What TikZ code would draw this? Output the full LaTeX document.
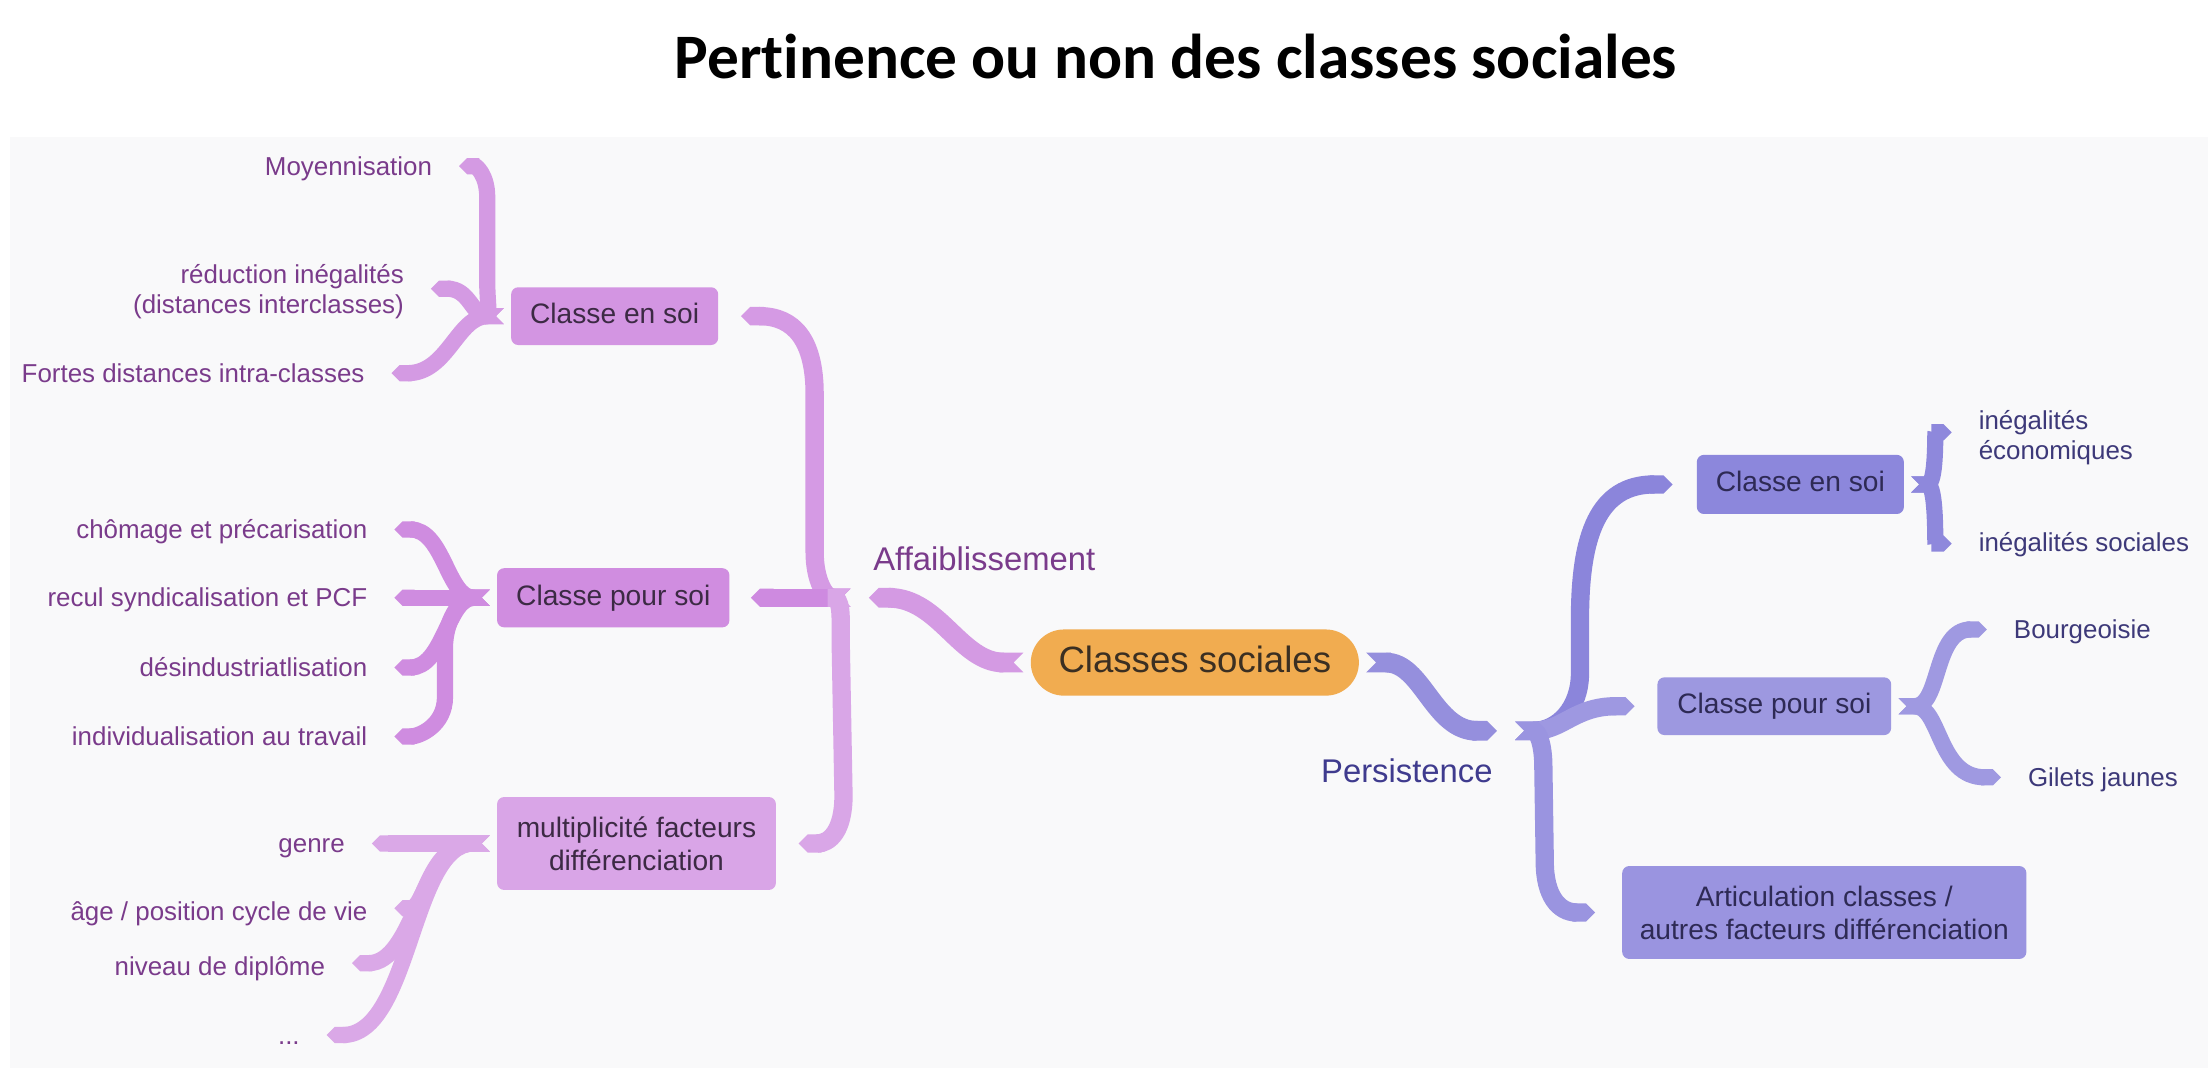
\documentclass[tikz,border=0pt]{standalone}
\usepackage{fontspec}
\setmainfont{Liberation Sans}
\newfontfamily\titlefont{Carlito}[Ligatures=NoCommon]
\usetikzlibrary{arrows.meta,calc}
\definecolor{panel}{HTML}{F9F9FA}
\definecolor{lboxA}{HTML}{D395E2}
\definecolor{lboxB}{HTML}{D08DE0}
\definecolor{lboxC}{HTML}{D9A5E7}
\definecolor{rboxA}{HTML}{8C87DC}
\definecolor{rboxB}{HTML}{9D98E0}
\definecolor{rboxC}{HTML}{9A94E0}
\definecolor{centre}{HTML}{F1AC50}
\definecolor{ltext}{HTML}{7A3B8B}
\definecolor{rtext}{HTML}{3D3979}
\definecolor{lboxtext}{HTML}{3C2A44}
\definecolor{rboxtext}{HTML}{2E2A55}
\definecolor{ctext}{HTML}{3B2F22}
\definecolor{pertext}{HTML}{3F3B8E}
\definecolor{cLone}{HTML}{D49AE3}
\definecolor{cLtwoA}{HTML}{D59AE4}
\definecolor{cLtwoB}{HTML}{CE8AE0}
\definecolor{cLtwoC}{HTML}{D9A6E7}
\definecolor{cLthrA}{HTML}{D49AE3}
\definecolor{cLthrB}{HTML}{CF8CE0}
\definecolor{cLthrC}{HTML}{DAA8E7}
\definecolor{cRone}{HTML}{958FDD}
\definecolor{cRtwoA}{HTML}{8B85DB}
\definecolor{cRtwoB}{HTML}{9E98E1}
\definecolor{cRtwoC}{HTML}{9A94E0}
\definecolor{cRthrA}{HTML}{8E88DC}
\definecolor{cRthrB}{HTML}{9F99E1}
\begin{document}
\begin{tikzpicture}[x=1pt,y=-1pt,
  ribbon/.style={line width=#1, line cap=butt, arrows={Triangle Cap[reversed]-Triangle Cap}},
  lvlA/.style={ribbon=14pt},
  lvlB/.style={ribbon=13pt},
  leafr/.style={ribbon=11.5pt},
  boxnode/.style={rounded corners=5pt, inner sep=0pt, align=center, font=\fontsize{20}{23.5}\selectfont},
  lbox/.style={boxnode, fill=#1, text=lboxtext},
  rbox/.style={boxnode, fill=#1, text=rboxtext},
  onebox/.style={text height=14.5pt, text depth=4.2pt},
  lleaf/.style={inner sep=0pt, anchor=east, align=right, text=ltext, font=\fontsize{18.4}{21.5}\selectfont},
  rleaf/.style={inner sep=0pt, anchor=west, align=left, text=rtext, font=\fontsize{18.4}{21.5}\selectfont},
  oneleaf/.style={text height=15pt, text depth=2pt},
  bigtext/.style={inner sep=0pt, anchor=west, font=\fontsize{23.3}{28}\selectfont, text height=19pt, text depth=3pt}
]
\useasboundingbox (0,0) rectangle (1568,758.4);
\fill[white] (0,0) rectangle (1568,758.4);
\fill[panel] (7,97) rectangle (1568,758.4);

% title
\node[anchor=base, inner sep=0pt, font=\titlefont\bfseries\fontsize{45}{54}\selectfont] (title) at (835,56) {Pertinence ou non des classes sociales};

% centre
\node[fill=centre, rounded corners=23.5pt, minimum width=233pt, minimum height=47pt, inner sep=0pt,
      text=ctext, font=\fontsize{26}{30}\selectfont, text height=19pt, text depth=5.5pt] (cs) at (848.5,470.5) {Classes sociales};

\node[bigtext, text=ltext] (aff) at (620,397) {Affaiblissement};
\node[bigtext, text=pertext] (pers) at (938,548) {Persistence};

\coordinate (hubL) at (610,424.5);
\coordinate (hubR) at (1070,519);

% boxes
\node[lbox=lboxA, minimum width=147pt, minimum height=41pt, onebox] (lces) at (436.5,224.5) {Classe en soi};
\node[lbox=lboxB, minimum width=165pt, minimum height=42pt, onebox] (lcps) at (435.5,424.5) {Classe pour soi};
\node[lbox=lboxC, minimum width=198pt, minimum height=66pt] (lmf) at (452,599) {multiplicité facteurs\\différenciation};
\node[rbox=rboxA, minimum width=147pt, minimum height=42pt, onebox] (rces) at (1278.5,344) {Classe en soi};
\node[rbox=rboxB, minimum width=166pt, minimum height=41pt, onebox] (rcps) at (1260,501.5) {Classe pour soi};
\node[rbox=rboxC, minimum width=287pt, minimum height=66pt] (rart) at (1295.5,648) {Articulation classes /\\autres facteurs différenciation};

% left leaves
\node[lleaf, oneleaf] (moy) at (307,118) {Moyennisation};
\node[lleaf] (red) at (287,207) {réduction inégalités\\(distances interclasses)};
\node[lleaf, oneleaf] (fortes) at (259,265) {Fortes distances intra-classes};
\node[lleaf, oneleaf] (chom) at (261,376) {chômage et précarisation};
\node[lleaf, oneleaf] (recul) at (261,424.5) {recul syndicalisation et PCF};
\node[lleaf, oneleaf] (desind) at (261,474) {désindustriatlisation};
\node[lleaf, oneleaf] (indiv) at (261,523) {individualisation au travail};
\node[lleaf, oneleaf] (genre) at (245,599) {genre};
\node[lleaf, oneleaf] (age) at (261,647) {âge / position cycle de vie};
\node[lleaf, oneleaf] (niv) at (231,686) {niveau de diplôme};
\node[lleaf, oneleaf] (dots) at (213,735) {...};

% right leaves
\node[rleaf] (ineco) at (1405,311) {inégalités\\économiques};
\node[rleaf, oneleaf] (insoc) at (1405,385) {inégalités sociales};
\node[rleaf, oneleaf] (bourg) at (1430,447) {Bourgeoisie};
\node[rleaf, oneleaf] (gilets) at (1440,552) {Gilets jaunes};

% ---- left connectors
\draw[lvlA, cLone] ($(cs.west)+(-5,0)$) .. controls +(-45,0) and +(50,0) .. ($(hubL)+(7,0)$);
\draw[lvlB, cLtwoA] ($(hubL)+(-6,0)$) .. controls +(-18,0) and +(0,20) .. (578.5,392) -- (578.5,280)
   .. controls +(0,-38) and +(38,0) .. ($(lces.east)+(16,0)$);
\draw[lvlB, cLtwoB] ($(hubL)+(-6,0)$) -- ($(lcps.east)+(15,0)$);
\draw[lvlB, cLtwoC] ($(hubL)+(-6,0)$) .. controls +(-6,0) and +(0,-18) .. (597,455) -- (599,565)
   .. controls +(0,25) and +(22,0) .. ($(lmf.east)+(16,0)$);

\draw[leafr, cLthrA] ($(lces.west)+(-5,0)$) .. controls +(-10,0) and +(0,12) .. (346,200) -- (346,140)
   .. controls +(0,-16) and +(12,0) .. ($(moy.east)+(19,0)$);
\draw[leafr, cLthrA] ($(lces.west)+(-5,0)$) .. controls +(-23,0) and +(28,0) .. ($(red.east)+(19,-2)$);
\draw[leafr, cLthrA] ($(lces.west)+(-5,0)$) .. controls +(-33,0) and +(40,0) .. ($(fortes.east)+(19,0)$);

\draw[leafr, cLthrB] ($(lcps.west)+(-5,0)$) .. controls +(-30,0) and +(35,0) .. ($(chom.east)+(19,0)$);
\draw[leafr, cLthrB] ($(lcps.west)+(-5,0)$) -- ($(recul.east)+(19,0)$);
\draw[leafr, cLthrB] ($(lcps.west)+(-5,0)$) .. controls +(-30,0) and +(35,0) .. ($(desind.east)+(19,0)$);
\draw[leafr, cLthrB] ($(lcps.west)+(-5,0)$) .. controls +(-22,0) and +(0,-18) .. (316,460) -- (316,495)
   .. controls +(0,20) and +(18,0) .. ($(indiv.east)+(19,0)$);

\draw[leafr, cLthrC] ($(lmf.west)+(-5,0)$) -- ($(genre.east)+(19,0)$);
\draw[leafr, cLthrC] ($(lmf.west)+(-5,0)$) .. controls +(-43,0) and +(22,0) .. ($(age.east)+(19,-2)$);
\draw[leafr, cLthrC] ($(lmf.west)+(-5,0)$) .. controls +(-50,0) and +(45,0) .. ($(niv.east)+(19,-2)$);
\draw[leafr, cLthrC] ($(lmf.west)+(-5,0)$) .. controls +(-56,0) and +(60,0) .. ($(dots.east)+(19,0)$);

% ---- right connectors
\draw[lvlA, cRone] ($(cs.east)+(5,0)$) .. controls +(40,0) and +(-45,0) .. ($(hubR)+(-7,0)$);
\draw[lvlB, cRtwoA] ($(hubR)+(6,0)$) .. controls +(30,0) and +(0,25) .. (1122,478) -- (1122,440)
   .. controls +(0,-60) and +(-53,0) .. ($(rces.west)+(-17,0)$);
\draw[lvlB, cRtwoB] ($(hubR)+(6,0)$) .. controls +(34,0) and +(-43,0) .. ($(rcps.west)+(-16,0)$);
\draw[lvlB, cRtwoC] ($(hubR)+(6,0)$) .. controls +(16,0) and +(0,-17) .. (1096,545) -- (1097,612)
   .. controls +(0,24) and +(-26,0) .. ($(rart.west)+(-19,0)$);

\draw[leafr, cRthrA] ($(rces.east)+(5,0)$) .. controls +(18,0) and +(-12,0) .. ($(ineco.west)+(-19,-4)$);
\draw[leafr, cRthrA] ($(rces.east)+(5,0)$) .. controls +(18,0) and +(-12,0) .. ($(insoc.west)+(-19,1)$);
\draw[leafr, cRthrB] ($(rcps.east)+(5,0)$) .. controls +(30,0) and +(-38,0) .. ($(bourg.west)+(-19,0)$);
\draw[leafr, cRthrB] ($(rcps.east)+(5,0)$) .. controls +(30,0) and +(-45,0) .. ($(gilets.west)+(-19,0)$);
\end{tikzpicture}
\end{document}
